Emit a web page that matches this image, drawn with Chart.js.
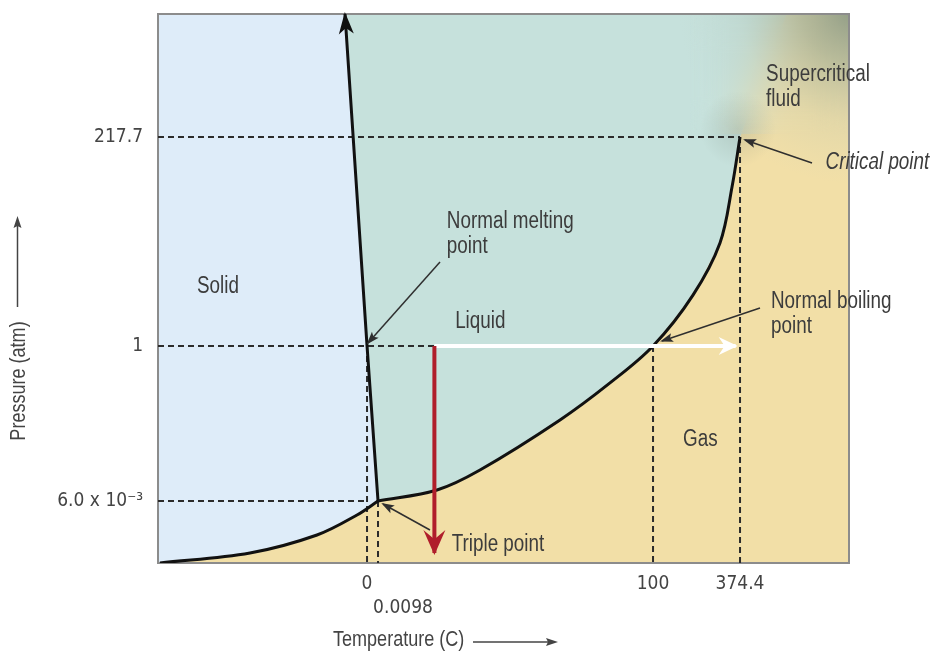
<!DOCTYPE html>
<html>
<head>
<meta charset="utf-8">
<script src="https://cdn.jsdelivr.net/npm/chart.js@4.4.1/dist/chart.umd.min.js"></script>
<style>
  html, body { margin: 0; padding: 0; background: #fff; }
  #wrap { width: 933px; height: 652px; }
</style>
</head>
<body>
<div id="wrap"><canvas id="phaseChart" width="933" height="652"></canvas></div>
<script>
// narrow look: Arial-metric font squeezed to 82% (Arial Narrow proportions)
const FONT = "'Liberation Sans', Arimo, Arial, sans-serif";
const TICK_FONT = "'DejaVu Sans Condensed', 'Liberation Sans', sans-serif";
const SQUEEZE = 0.82;
const INK = '#3c3c3c';

// schematic diagram units: both axes run 0..100 across the plot box (not to scale)
const xTickPos = [30.25, 71.64, 84.23];
const xTickLabels = ['0', '100', '374.4'];
const tripleTickPos = 31.84;
const tripleTickLabel = '0.0098';
const yTickPos = [11.29, 39.53, 77.6];
const yTickLabels = ['6.0 x 10⁻³', '1', '217.7'];

// phase boundaries
const sublimationX = [0.29, 13.31, 23.01, 28.8, 31.84];
const sublimationY = [0, 1.82, 5.1, 8.74, 11.29];
const vaporX = [31.84, 40.38, 46.6, 58.18, 65.41, 71.64, 77.42, 81.33, 83.07, 84.23];
const vaporY = [11.29, 13.3, 16.94, 26.05, 32.8, 39.53, 48.8, 58.3, 68.49, 77.6];
const meltX = [31.84, 30.25, 27.06];
const meltY = [11.29, 39.53, 100];

// dashed guide lines, [x, y] ends
const dashedLines = [
  [[0, 77.6], [84.23, 77.6]],
  [[0, 39.53], [40.0, 39.53]],
  [[0, 11.29], [30.25, 11.29]],
  [[30.25, 39.53], [30.25, 0]],
  [[31.84, 11.29], [31.84, 0]],
  [[71.64, 39.53], [71.64, 0]],
  [[84.23, 77.6], [84.23, 0]]
];

// process arrows and callout arrows, [x, y] from -> to
const coolingArrow = [[40.0, 39.53], [40.0, 1.8]];
const heatingArrow = [[40.0, 39.53], [83.6, 39.53]];
const callouts = [
  [[40.81, 54.83], [30.39, 40.07]],
  [[94.65, 72.86], [84.95, 77.05]],
  [[87.12, 46.45], [72.94, 40.44]],
  [[39.36, 6.01], [32.56, 10.75]]
];

const notes = [
  { text: 'Solid', x: 5.64, y: 50.27 },
  { text: 'Liquid', x: 43.0, y: 43.9 },
  { text: 'Normal melting', x: 41.8, y: 62.11 },
  { text: 'point', x: 41.8, y: 57.56 },
  { text: 'Supercritical', x: 88.0, y: 88.89 },
  { text: 'fluid', x: 88.0, y: 84.34 },
  { text: 'Critical point', x: 96.6, y: 72.86, italic: true },
  { text: 'Normal boiling', x: 88.71, y: 47.54 },
  { text: 'point', x: 88.71, y: 42.99 },
  { text: 'Gas', x: 75.98, y: 22.4 },
  { text: 'Triple point', x: 42.5, y: 3.28 }
];

const toPts = (xs, ys) => xs.map((x, i) => ({ x, y: ys[i] }));
const segPts = seg => seg.map(([x, y]) => ({ x, y }));

// fill outlines built from the boundaries (x increasing)
const liquidEdge = toPts(meltX.slice().reverse(), meltY.slice().reverse())
  .concat(toPts(vaporX.slice(1), vaporY.slice(1)))
  .concat([{ x: 91, y: 100 }]);
const gasEdge = toPts(sublimationX, sublimationY)
  .concat(toPts(vaporX.slice(1), vaporY.slice(1)))
  .concat([{ x: 91, y: 100 }, { x: 100, y: 100 }]);

const plain = { pointRadius: 0, fill: false, tension: 0 };

const datasets = [
  { label: 'liquid', data: liquidEdge, fill: 'end', backgroundColor: '#c6e1dc', borderColor: 'transparent', borderWidth: 0, pointRadius: 0, tension: 0, order: 10 },
  { label: 'gas', data: gasEdge, fill: 'start', backgroundColor: '#f2dfa7', borderColor: 'transparent', borderWidth: 0, pointRadius: 0, tension: 0, order: 9 },
  ...dashedLines.map(seg => ({ ...plain, data: segPts(seg), borderColor: '#2b2b2b', borderWidth: 2, borderDash: [6, 4], order: 5 })),
  { ...plain, data: toPts(sublimationX, sublimationY), borderColor: '#111', borderWidth: 3, tension: 0.35, order: 3 },
  { ...plain, data: toPts(vaporX, vaporY), borderColor: '#111', borderWidth: 3, tension: 0.35, order: 3 },
  { ...plain, data: toPts(meltX, meltY), borderColor: '#111', borderWidth: 3, order: 3, head: { len: 20, half: 7.5, notch: 0.7, color: '#111' } },
  { ...plain, data: segPts(heatingArrow), borderColor: '#ffffff', borderWidth: 4, borderCapStyle: 'butt', order: 2, head: { len: 17, half: 9, notch: 0.65, color: '#ffffff' } },
  { ...plain, data: segPts(coolingArrow), borderColor: '#b01e2b', borderWidth: 4, borderCapStyle: 'butt', order: 1, head: { len: 23, half: 11, notch: 0.6, color: '#b01e2b' } },
  ...callouts.map(seg => ({ ...plain, data: segPts(seg), borderColor: '#2f2f2f', borderWidth: 1.5, order: 1, head: { len: 11, half: 4.5, notch: 0.75, color: '#2f2f2f' } }))
];

function drawHead(ctx, x, y, ang, h) {
  ctx.save();
  ctx.translate(x, y);
  ctx.rotate(ang);
  ctx.beginPath();
  ctx.moveTo(2, 0);
  ctx.lineTo(-h.len, -h.half);
  ctx.lineTo(-h.len * h.notch, 0);
  ctx.lineTo(-h.len, h.half);
  ctx.closePath();
  ctx.fillStyle = h.color;
  ctx.fill();
  ctx.restore();
}

function narrowText(ctx, text, x, y, font, align) {
  ctx.save();
  ctx.font = font;
  ctx.textAlign = align;
  ctx.translate(x, y);
  ctx.scale(SQUEEZE, 1);
  ctx.fillText(text, 0, 0);
  ctx.restore();
}

const decor = {
  id: 'decor',
  beforeDatasetsDraw(chart) {
    const { ctx, chartArea: a } = chart;
    ctx.save();
    ctx.fillStyle = '#deecf9'; // solid region
    ctx.fillRect(a.left, a.top, a.right - a.left, a.bottom - a.top);
    ctx.restore();
  },
  afterDatasetDraw(chart, args) {
    if (chart.data.datasets[args.index].label !== 'gas') return;
    const { ctx, chartArea: a } = chart;
    const sx = chart.scales.x, sy = chart.scales.y;
    const critX = sx.getPixelForValue(vaporX[vaporX.length - 1]);
    const critY = sy.getPixelForValue(vaporY[vaporY.length - 1]);

    // soften the liquid / gas edge above the critical point
    const rx = critX - 50, rw = a.right - rx, rh = critY - 3 - a.top;
    ctx.save();
    ctx.beginPath();
    ctx.rect(rx, a.top, rw, rh);
    ctx.clip();
    ctx.filter = 'blur(16px)';
    ctx.drawImage(chart.canvas, rx, a.top, rw, rh, rx, a.top, rw, rh);
    ctx.drawImage(chart.canvas, rx, a.top, rw, rh, rx, a.top, rw, rh);
    ctx.filter = 'none';
    ctx.restore();

    // supercritical haze in the top right corner
    ctx.save();
    ctx.beginPath();
    ctx.rect(a.left, a.top, a.right - a.left, a.bottom - a.top);
    ctx.clip();
    const gx = a.right + 5, gy = a.top - 5;
    const g = ctx.createRadialGradient(gx, gy, 0, gx, gy, 175);
    g.addColorStop(0, 'rgba(118,138,124,0.8)');
    g.addColorStop(0.3, 'rgba(135,156,142,0.55)');
    g.addColorStop(0.65, 'rgba(165,184,170,0.2)');
    g.addColorStop(1, 'rgba(190,205,190,0)');
    ctx.fillStyle = g;
    ctx.fillRect(a.left, a.top, a.right - a.left, a.bottom - a.top);
    const g2 = ctx.createRadialGradient(critX - 2, critY - 8, 0, critX - 2, critY - 8, 38);
    g2.addColorStop(0, 'rgba(120,135,122,0.25)');
    g2.addColorStop(1, 'rgba(120,135,122,0)');
    ctx.fillStyle = g2;
    ctx.fillRect(critX - 45, critY - 50, 90, 90);
    ctx.restore();

    // plot frame
    ctx.save();
    ctx.strokeStyle = '#8c8c8c';
    ctx.lineWidth = 2;
    ctx.strokeRect(a.left, a.top, a.right - a.left, a.bottom - a.top);
    ctx.restore();
  },
  afterDatasetsDraw(chart) {
    const { ctx } = chart;
    const sx = chart.scales.x, sy = chart.scales.y;
    chart.data.datasets.forEach((ds, i) => {
      if (!ds.head) return;
      const pts = chart.getDatasetMeta(i).data;
      const p = pts[pts.length - 1], q = pts[pts.length - 2];
      drawHead(ctx, p.x, p.y, Math.atan2(p.y - q.y, p.x - q.x), ds.head);
    });

    ctx.save();
    ctx.fillStyle = INK;
    ctx.textBaseline = 'middle';
    notes.forEach(n => {
      narrowText(ctx, n.text, sx.getPixelForValue(n.x), sy.getPixelForValue(n.y),
        (n.italic ? 'italic ' : '') + '23px ' + FONT, 'left');
    });

    // offset tick label under the triple point
    ctx.fillStyle = '#444';
    ctx.font = '19px ' + TICK_FONT;
    ctx.textAlign = 'center';
    ctx.fillText(tripleTickLabel, sx.getPixelForValue(tripleTickPos) + 25, 608);

    // axis titles with arrows
    ctx.strokeStyle = '#444';
    ctx.lineWidth = 1.5;
    narrowText(ctx, 'Temperature (C)', 333, 640, '22px ' + FONT, 'left');
    ctx.beginPath();
    ctx.moveTo(473, 642);
    ctx.lineTo(550, 642);
    ctx.stroke();
    drawHead(ctx, 556, 642, 0, { len: 10, half: 4, notch: 0.8, color: '#444' });

    ctx.save();
    ctx.translate(19, 381);
    ctx.rotate(-Math.PI / 2);
    narrowText(ctx, 'Pressure (atm)', 0, 0, '22px ' + FONT, 'center');
    ctx.restore();
    ctx.beginPath();
    ctx.moveTo(17.5, 307);
    ctx.lineTo(17.5, 225);
    ctx.stroke();
    drawHead(ctx, 17.5, 218, -Math.PI / 2, { len: 10, half: 4, notch: 0.8, color: '#444' });
    ctx.restore();
  }
};

new Chart(document.getElementById('phaseChart'), {
  type: 'line',
  data: { datasets },
  plugins: [decor],
  options: {
    responsive: false,
    animation: false,
    layout: { padding: { left: 0, right: 84, top: 14, bottom: 0 } },
    plugins: {
      legend: { display: false },
      tooltip: { enabled: false },
      filler: { propagate: false }
    },
    scales: {
      x: {
        type: 'linear', min: 0, max: 100,
        grid: { display: false, drawTicks: false },
        border: { display: false },
        afterBuildTicks: s => { s.ticks = xTickPos.map(v => ({ value: v })); },
        afterFit: s => { s.height = 89; s.paddingLeft = 0; s.paddingRight = 0; },
        ticks: {
          callback: (v, i) => xTickLabels[i],
          autoSkip: false, maxRotation: 0, padding: 10,
          color: '#444', font: { family: TICK_FONT, size: 19 }
        }
      },
      y: {
        type: 'linear', min: 0, max: 100,
        grid: { display: false, drawTicks: false },
        border: { display: false },
        afterBuildTicks: s => { s.ticks = yTickPos.map(v => ({ value: v })); },
        afterFit: s => { s.width = 158; s.paddingTop = 0; s.paddingBottom = 0; },
        ticks: {
          callback: (v, i) => yTickLabels[i],
          autoSkip: false, padding: 15,
          color: '#444', font: { family: TICK_FONT, size: 19 }
        }
      }
    }
  }
});
</script>
</body>
</html>
